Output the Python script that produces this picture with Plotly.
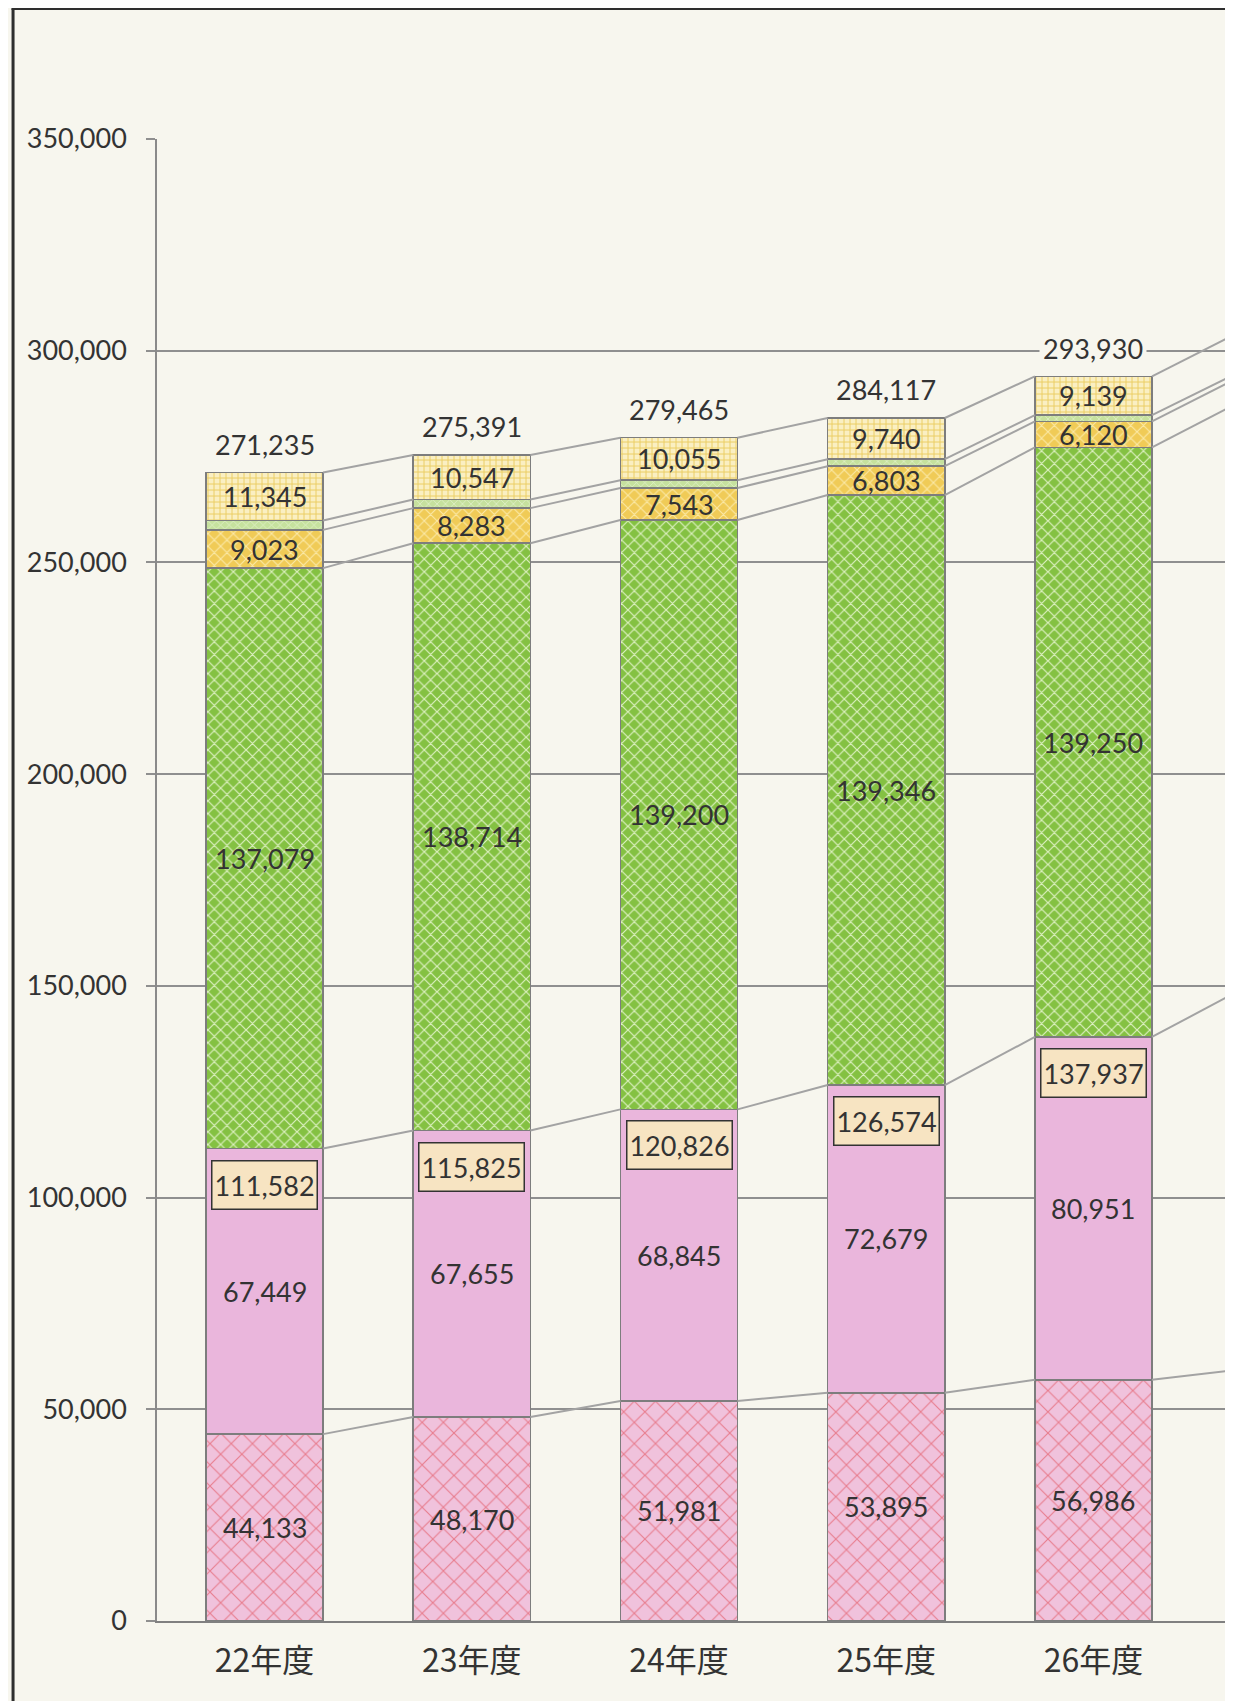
import plotly.graph_objects as go

# ---- data (27年度 is off the right edge, estimated from the connector slopes)
categories = ["22年度", "23年度", "24年度", "25年度", "26年度", "27年度"]
seg_cross_pink = [44133, 48170, 51981, 53895, 56986, 59470]
seg_pink = [67449, 67655, 68845, 72679, 80951, 89760]
seg_green = [137079, 138714, 139200, 139346, 139250, 138970]
seg_yellow = [9023, 8283, 7543, 6803, 6120, 5880]
seg_thin_green = [2206, 2022, 1841, 1654, 1484, 1220]
seg_top_yellow = [11345, 10547, 10055, 9740, 9139, 9400]
subtotals = [111582, 115825, 120826, 126574, 137937, 149230]
totals = [271235, 275391, 279465, 284117, 293930, 304700]
y_ticks = [0, 50000, 100000, 150000, 200000, 250000, 300000, 350000]
n_shown = 5

BG = "#f7f6ee"
TXT = "#333333"
EDGE = "#7d7d7d"
LBL_FONT = "Lato, 'Noto Sans', sans-serif"
CJK_FONT = "'Noto Sans CJK JP', 'Noto Sans', sans-serif"
BW = 0.565

xs = list(range(len(categories)))

series = [
    (seg_cross_pink, dict(shape="x", bgcolor="#f0c2dc", fgcolor="#e87c8d", size=15, solidity=0.14)),
    (seg_pink, None),
    (seg_green, dict(shape="x", bgcolor="#84c142", fgcolor="#dcf0c0", size=9, solidity=0.25)),
    (seg_yellow, dict(shape="x", bgcolor="#f0cb57", fgcolor="#fbeaa8", size=9, solidity=0.22)),
    (seg_thin_green, dict(shape="x", bgcolor="#c6e19e", fgcolor="#e6f3d2", size=6, solidity=0.2)),
    (seg_top_yellow, dict(shape="+", bgcolor="#faefc2", fgcolor="#eccd62", size=6, solidity=0.3)),
]

fig = go.Figure()
for vals, pat in series:
    marker = dict(line=dict(color=EDGE, width=1.6))
    if pat is None:
        marker["color"] = "#eab6dc"
    else:
        marker["color"] = pat["bgcolor"]
        marker["pattern"] = dict(shape=pat["shape"], bgcolor=pat["bgcolor"], fgcolor=pat["fgcolor"],
                                 size=pat["size"], solidity=pat["solidity"], fillmode="replace")
    fig.add_trace(go.Bar(x=xs, y=vals, width=BW, marker=marker, showlegend=False, hoverinfo="skip"))

# cumulative levels for connector lines
levels = []
cum = [0] * len(categories)
for vals, _ in series:
    cum = [c + v for c, v in zip(cum, vals)]
    levels.append(list(cum))

lx, ly = [], []
for lev in levels:
    for i in range(len(categories) - 1):
        lx += [xs[i] + BW / 2, xs[i + 1] - BW / 2, None]
        ly += [lev[i], lev[i + 1], None]
fig.add_trace(go.Scatter(x=lx, y=ly, mode="lines", line=dict(color="#a3a3a3", width=2),
                         showlegend=False, hoverinfo="skip"))

ann = []
labelled = [0, 1, 2, 3, 5]
for i in range(n_shown):
    base = 0
    for k, (vals, _) in enumerate(series):
        if k in labelled:
            ann.append(dict(x=xs[i], y=base + vals[i] / 2, xref="x", yref="y",
                            text=f"{vals[i]:,}", showarrow=False,
                            font=dict(family=LBL_FONT, size=27, color=TXT)))
        base += vals[i]
    # subtotal box
    ann.append(dict(x=xs[i], y=subtotals[i], xref="x", yref="y", yshift=-36,
                    text=f"{subtotals[i]:,}", showarrow=False, width=102, height=45,
                    bgcolor="#f7e4c2", bordercolor="#333333", borderwidth=1.5,
                    font=dict(family=LBL_FONT, size=27, color=TXT)))
    # total
    ann.append(dict(x=xs[i], y=totals[i], xref="x", yref="y", yshift=28,
                    text=f"{totals[i]:,}", showarrow=False, bgcolor=BG, borderpad=3,
                    font=dict(family=LBL_FONT, size=27, color=TXT)))

shapes = [
    dict(type="line", xref="paper", yref="paper", x0=-0.1328, x1=-0.1328, y0=1.0881, y1=-0.1,
         line=dict(color="#2e2e2e", width=3)),
    dict(type="line", xref="paper", yref="paper", x0=-0.1342, x1=1.05, y0=1.0881, y1=1.0881,
         line=dict(color="#2e2e2e", width=3)),
]

fig.update_layout(
    barmode="stack",
    width=1233, height=1701, autosize=False,
    margin=dict(l=149, r=0, t=131, b=88),
    paper_bgcolor=BG, plot_bgcolor=BG,
    annotations=ann, shapes=shapes,
    xaxis=dict(range=[-0.519, 4.712], tickmode="array", tickvals=xs, ticktext=categories,
               showgrid=False, zeroline=False, showline=True, linecolor="#808080", linewidth=1.5,
               ticks="", tickfont=dict(family=CJK_FONT, size=32, color=TXT), ticklabelstandoff=11),
    yaxis=dict(range=[0, 350000], tickmode="array", tickvals=y_ticks,
               ticktext=[f"{v:,}" for v in y_ticks],
               showgrid=True, gridcolor="#8f8f8f", gridwidth=1.5, zeroline=False,
               showline=True, linecolor="#8a8a8a", linewidth=1.5,
               ticks="outside", ticklen=9, tickcolor="#8f8f8f", tickwidth=1.5,
               tickfont=dict(family=LBL_FONT, size=27, color=TXT), ticklabelstandoff=14),
)

fig.write_html("out.html")
